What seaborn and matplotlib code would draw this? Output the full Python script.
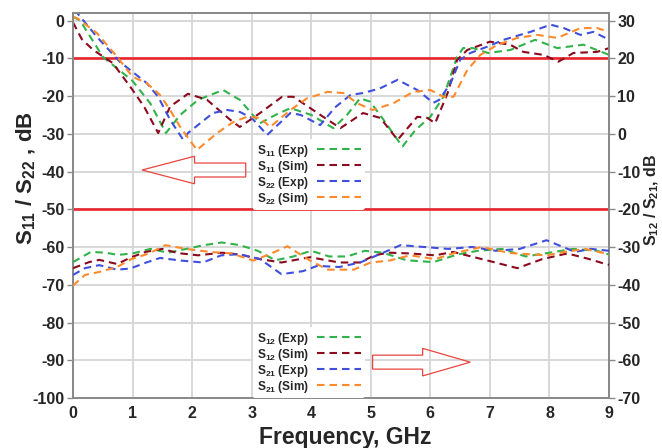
import matplotlib
matplotlib.use("Agg")
import matplotlib.pyplot as plt
import seaborn as sns
import numpy as np
import pandas as pd
from matplotlib.lines import Line2D
from matplotlib.patches import FancyArrow

# ---------------- data ----------------
# reflection (left axis, dB)
s11_exp_f = [0, 0.12, 0.5, 1.0, 1.3, 1.56, 1.8, 2.1, 2.52, 2.8, 3.14, 3.4, 3.65, 4.0, 4.37, 4.6, 4.82, 4.99, 5.2, 5.53, 5.75, 6.0, 6.22, 6.45, 6.55, 6.72, 6.97, 7.34, 7.76, 8.13, 8.57, 9.0]
s11_exp = [1, 0, -9.6, -16, -22, -29.8, -25, -21, -18.4, -21, -27.2, -25, -23.2, -25, -28.5, -25, -20.6, -21.5, -26, -33.4, -29, -25.5, -20.2, -9.6, -7.3, -7.3, -8.6, -7.8, -5.1, -7.3, -6.4, -9.1]

s11_sim_f = [0, 0.15, 0.34, 0.67, 1.0, 1.2, 1.43, 1.63, 1.93, 2.25, 2.64, 2.8, 3.14, 3.51, 3.7, 4.2, 4.49, 4.87, 5.16, 5.45, 5.78, 5.95, 6.08, 6.29, 6.45, 6.62, 7.0, 7.34, 7.56, 7.9, 8.15, 8.4, 8.8, 9.0]
s11_sim = [-0.5, -5, -7.8, -11.3, -18.4, -23, -29.8, -22.8, -19.4, -21, -26.3, -28.2, -24.5, -20.2, -20.2, -25.5, -28.5, -24.5, -25.8, -31.6, -25.5, -25.8, -27.2, -19.2, -10.4, -7.8, -5.6, -6.4, -8.3, -9.1, -10.9, -8.6, -8.3, -7.3]

s22_exp_f = [0, 0.07, 0.4, 0.79, 1.24, 1.43, 1.63, 1.85, 1.93, 2.35, 2.59, 2.8, 3.0, 3.26, 3.65, 3.82, 4.15, 4.4, 4.66, 4.87, 5.15, 5.45, 5.78, 6.05, 6.15, 6.34, 6.5, 6.67, 6.96, 7.23, 7.68, 8.02, 8.24, 8.52, 8.74, 9.0]
s22_exp = [2, 2, -4.3, -11, -16.6, -20.2, -26.3, -31.6, -29.8, -24.5, -23.7, -24.2, -25.8, -30.3, -24.5, -25, -27.7, -23, -19.7, -19.2, -18, -15.7, -18.4, -21.8, -21, -16.6, -10.4, -8.6, -6.9, -5.1, -3, -1.1, -2, -3.8, -3, -5.1]

s22_sim_f = [0, 0.08, 0.4, 0.74, 1.0, 1.24, 1.46, 1.63, 1.8, 2.08, 2.42, 2.69, 2.92, 3.14, 3.31, 3.65, 3.93, 4.27, 4.54, 4.77, 5.03, 5.38, 5.71, 6.0, 6.22, 6.39, 6.62, 6.84, 7.13, 7.46, 7.8, 8.13, 8.52, 8.8, 9.0]
s22_sim = [1, 0.5, -3.3, -9.6, -14.9, -16.6, -19.7, -23.7, -28.2, -34.3, -29.8, -26.9, -25.5, -25.8, -28.2, -23.7, -20.6, -18.9, -19.2, -21.9, -23.7, -21.9, -18.9, -18.4, -20.2, -20.2, -13.1, -9.1, -6.4, -4.6, -3.8, -4.6, -2, -2, -3]

# transmission (right axis, dB)
s12_exp_f = [0, 0.3, 0.55, 0.75, 1.0, 1.3, 1.6, 1.9, 2.2, 2.5, 2.8, 3.1, 3.4, 3.7, 4.0, 4.3, 4.6, 4.9, 5.2, 5.6, 6.05, 6.45, 6.8, 7.2, 7.6, 8.0, 8.4, 8.8, 9.0]
s12_exp = [-34, -31.3, -31.5, -32.1, -31.7, -30.5, -31.5, -30.5, -29.5, -28.8, -29.5, -31, -33.5, -32.5, -31, -32.5, -32.5, -31, -31.5, -33.5, -34, -32, -31, -30.5, -32.5, -31.5, -30.5, -31, -32]

s12_sim_f = [0, 0.27, 0.44, 0.74, 0.98, 1.22, 1.5, 1.76, 2.1, 2.5, 2.8, 3.14, 3.5, 3.98, 4.47, 4.82, 5.06, 5.3, 5.66, 6.08, 6.38, 6.99, 7.46, 7.88, 8.3, 8.67, 8.94, 9.0]
s12_sim = [-35.6, -34, -33.4, -34.5, -32.7, -31.3, -30.5, -31.6, -32.2, -31.5, -32, -33.2, -34.1, -32.7, -34.1, -34.1, -32.2, -31.5, -31.7, -32.2, -31.3, -33.7, -35.6, -33.2, -31.7, -33.2, -34.5, -34.7]

s21_exp_f = [0, 0.2, 0.44, 0.74, 0.96, 1.23, 1.46, 1.82, 2.18, 2.49, 2.79, 3.14, 3.5, 3.86, 4.1, 4.47, 4.82, 5.18, 5.5, 5.9, 6.3, 6.7, 7.1, 7.5, 7.95, 8.43, 8.7, 9.0]
s21_exp = [-37.4, -35.6, -34.8, -36, -35.7, -34.1, -32.9, -33.6, -34.1, -32.2, -31.9, -33.2, -37.2, -36.4, -35, -35.3, -34.1, -31.7, -29.5, -30, -30.5, -30, -31, -30.5, -28.2, -31.3, -30.5, -31]

s21_sim_f = [0, 0.2, 0.44, 0.74, 0.98, 1.28, 1.55, 1.9, 2.3, 2.66, 3.03, 3.33, 3.6, 3.98, 4.28, 4.71, 5.0, 5.31, 5.66, 6.08, 6.38, 6.86, 7.34, 7.95, 8.25, 8.6, 8.94, 9.0]
s21_sim = [-40.2, -37.4, -36.6, -35.3, -33.2, -31.7, -29.5, -30.5, -31.3, -31.7, -33.6, -31.7, -29.8, -33.6, -36, -36, -34.1, -33.6, -32.2, -33.2, -31.7, -30, -31.6, -32.2, -31.3, -30.5, -31.7, -32]

upper_labels = ["S$_{11}$ (Exp)", "S$_{11}$ (Sim)", "S$_{22}$ (Exp)", "S$_{22}$ (Sim)"]
lower_labels = ["S$_{12}$ (Exp)", "S$_{12}$ (Sim)", "S$_{21}$ (Exp)", "S$_{21}$ (Sim)"]
limit_levels = [-10, -50]
x_ticks = list(range(0, 10))
left_ticks = list(range(-100, 1, 10))
right_ticks = list(range(-70, 31, 10))

# ---------------- style ----------------
sns.set_theme(style="white")
plt.rcParams["font.family"] = ["Liberation Sans", "DejaVu Sans"]
plt.rcParams["font.weight"] = "bold"
plt.rcParams["axes.unicode_minus"] = False
plt.rcParams["mathtext.fontset"] = "custom"
plt.rcParams["mathtext.rm"] = "Liberation Sans:bold"
plt.rcParams["mathtext.bf"] = "Liberation Sans:bold"
plt.rcParams["mathtext.it"] = "Liberation Sans:bold"
plt.rcParams["mathtext.default"] = "bf"

colors = ["#2fb34a", "#8b0a1e", "#3f4fdc", "#ff8a2b"]
dash = (0, (3.6, 2.4))
lw = 1.5
txt = "#262626"
spine_c = "#8a8a8a"
tick_fs = 11.5

fig = plt.figure(figsize=(6.62, 4.48), dpi=100)
ax = fig.add_axes([0.1103, 0.1116, 0.8097, 0.8594])
ax2 = ax.twinx()

upper = [(s11_exp_f, s11_exp), (s11_sim_f, s11_sim), (s22_exp_f, s22_exp), (s22_sim_f, s22_sim)]
lower = [(s12_exp_f, s12_exp), (s12_sim_f, s12_sim), (s21_exp_f, s21_exp), (s21_sim_f, s21_sim)]

for (f, v), c in zip(upper, colors):
    sns.lineplot(x=f, y=v, ax=ax, color=c, linestyle=dash, linewidth=lw, legend=False, zorder=3)
for (f, v), c in zip(lower, colors):
    sns.lineplot(x=f, y=v, ax=ax2, color=c, linestyle=dash, linewidth=lw, legend=False, zorder=3)

for lv in limit_levels:
    ax.axhline(lv, color="#e8252d", linewidth=1.9, zorder=2)

ax.set_xlim(0, 9)
ax.set_ylim(-100, 2)
ax2.set_ylim(-70, 32)
ax.set_xticks(x_ticks)
ax.set_yticks(left_ticks)
ax2.set_yticks(right_ticks)
ax.grid(True, color="#d6d6d6", linewidth=1.3, zorder=0)
ax.set_axisbelow(True)
ax2.grid(False)

for a in (ax, ax2):
    for s in a.spines.values():
        s.set_color(spine_c)
        s.set_linewidth(1.4)
ax.tick_params(axis="x", direction="inout", length=7, width=1, color=spine_c,
               labelsize=tick_fs, labelcolor=txt, pad=2)
ax.tick_params(axis="y", direction="out", length=4, width=1, color=spine_c,
               labelsize=tick_fs, labelcolor=txt, pad=2, left=True)
ax2.tick_params(axis="y", direction="out", length=4, width=1, color=spine_c,
                labelsize=tick_fs, labelcolor=txt, pad=2, right=True)
for lab in ax.get_xticklabels() + ax.get_yticklabels() + ax2.get_yticklabels():
    lab.set_fontweight("bold")

ax.set_xlabel("Frequency, GHz", fontsize=16.5, fontweight="bold", color=txt)
ax.xaxis.set_label_coords(0.507, -0.072)
ax.set_ylabel("S$_{11}$ / S$_{22}$ , dB", fontsize=16, fontweight="bold", color=txt)
ax.yaxis.set_label_coords(-0.066, 0.57)
ax2.set_ylabel("S$_{12}$ / S$_{21}$, dB", fontsize=11.5, fontweight="bold", color=txt)
ax2.yaxis.set_label_coords(1.0635, 0.514)

# arrows (hollow)
ax.add_patch(FancyArrow(2.9, -39.6, -1.74, 0, width=3.7, head_width=7.3, head_length=0.88,
                        length_includes_head=True, facecolor="none", edgecolor="#e8453f",
                        linewidth=0.9, zorder=4))
ax.add_patch(FancyArrow(5.03, -90.5, 1.64, 0, width=3.7, head_width=7.3, head_length=0.8,
                        length_includes_head=True, facecolor="none", edgecolor="#e8453f",
                        linewidth=0.9, zorder=4))

def make_handles():
    return [Line2D([0], [0], color=c, linestyle=dash, linewidth=lw) for c in colors]

leg_kw = dict(loc="upper left", bbox_transform=fig.transFigure, markerfirst=False,
              frameon=True, facecolor="white", edgecolor="none", framealpha=1,
              fontsize=8.6, handlelength=3.7, handletextpad=0.7, labelspacing=0.0,
              borderpad=0.3, borderaxespad=0)
leg1 = ax.legend(make_handles(), upper_labels, bbox_to_anchor=(253 / 662, 1 - 139 / 448), **leg_kw)
for t in leg1.get_texts():
    t.set_color(txt)
leg2 = ax2.legend(make_handles(), lower_labels, bbox_to_anchor=(253 / 662, 1 - 327 / 448), **leg_kw)
for t in leg2.get_texts():
    t.set_color(txt)

fig.savefig("out.png", dpi=100)
